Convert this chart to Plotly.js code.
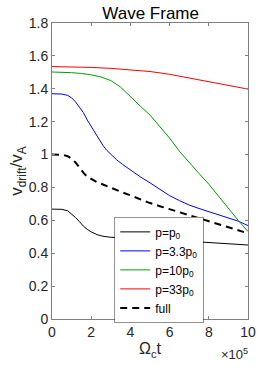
<!DOCTYPE html>
<html><head><meta charset="utf-8">
<script src="https://cdn.plot.ly/plotly-3.0.1.min.js"></script>
<style>html,body{margin:0;padding:0;background:#fff}#c{width:262px;height:371px}</style>
</head><body><div id="c"></div>
<script>
// x in units of 10^5 (Omega_c t)
const xP0 = [0,0.5,0.8,1,1.2,1.4,1.6,1.8,2,2.3,2.6,3,3.5,4,5,6,7,8,9,10];
const yP0 = [0.668,0.667,0.658,0.64,0.617,0.592,0.565,0.545,0.530,0.513,0.503,0.497,0.493,0.490,0.485,0.480,0.473,0.465,0.458,0.450];

const xP3 = [0,0.5,0.8,1,1.2,1.4,1.6,1.8,2,2.2,2.4,2.6,2.8,3,3.3,3.6,4,4.5,5,5.5,6,6.5,7,7.5,8,8.5,9,9.5,10];
const yP3 = [1.370,1.368,1.36,1.345,1.32,1.29,1.255,1.21,1.17,1.13,1.09,1.055,1.025,1.0,0.968,0.94,0.905,0.865,0.828,0.79,0.75,0.72,0.693,0.672,0.652,0.632,0.613,0.595,0.568];

const xP10 = [0,0.5,1,1.5,2,2.5,3,3.5,4,4.5,5,5.5,6,6.5,7,7.5,8,8.5,9,9.5,10];
const yP10 = [1.502,1.501,1.498,1.493,1.485,1.472,1.45,1.41,1.35,1.295,1.24,1.17,1.10,1.02,0.95,0.885,0.82,0.745,0.67,0.60,0.532];

const xP33 = [0,1,2,3,4,5,6,7,8,9,10];
const yP33 = [1.535,1.534,1.530,1.524,1.516,1.505,1.488,1.465,1.442,1.42,1.398];

const xFull = [0,0.6,0.8,1,1.2,1.4,1.6,1.8,2,2.3,2.6,3,3.5,4,4.5,5,5.5,6,6.5,7,7.5,8,8.5,9,9.5,10];
const yFull = [1.0,0.997,0.99,0.975,0.952,0.92,0.89,0.865,0.85,0.832,0.818,0.797,0.774,0.752,0.728,0.705,0.686,0.668,0.65,0.633,0.615,0.597,0.578,0.56,0.54,0.52];

const names = ['p=p<sub>0</sub>','p=3.3p<sub>0</sub>','p=10p<sub>0</sub>','p=33p<sub>0</sub>','full'];
const xTicks = [0,2,4,6,8,10];
const yTicks = [0,0.2,0.4,0.6,0.8,1,1.2,1.4,1.6,1.8];
const yTickText = ['0','0.2','0.4','0.6','0.8','1','1.2','1.4','1.6','1.8'];

const font = 'Liberation Sans, Arial, sans-serif';
const traces = [
  {x:xP0,y:yP0,name:names[0],line:{color:'#000000',width:1}},
  {x:xP3,y:yP3,name:names[1],line:{color:'#0000ff',width:1}},
  {x:xP10,y:yP10,name:names[2],line:{color:'#00a000',width:1}},
  {x:xP33,y:yP33,name:names[3],line:{color:'#ff0000',width:1}},
  {x:xFull,y:yFull,name:names[4],line:{color:'#000000',width:2,dash:'7px,5px'}}
].map(t=>Object.assign({type:'scatter',mode:'lines'},t));

const axis = {
  showgrid:false, zeroline:false, showline:true, mirror:'ticks',
  linecolor:'#808080', linewidth:1, ticks:'inside', ticklen:3, tickcolor:'#808080',
  tickfont:{family:font,size:14,color:'#262626'}
};
const layout = {
  width:262, height:371,
  margin:{l:52,r:14,t:23,b:52},
  paper_bgcolor:'#fff', plot_bgcolor:'#fff',
  title:{text:'Wave Frame', font:{family:font,size:17,color:'#000'}, x:0.575, xanchor:'center', y:0.982, yanchor:'top'},
  xaxis:Object.assign({}, axis, {range:[0,10], tickvals:xTicks, ticktext:xTicks.map(String),
    title:{text:'Ω<sub>c</sub>t', font:{family:font,size:16,color:'#262626'}, standoff:4}}),
  yaxis:Object.assign({}, axis, {range:[0,1.8], tickvals:yTicks, ticktext:yTickText,
    title:{text:'v<sub>drift</sub>/v<sub>A</sub>', font:{family:font,size:17,color:'#262626'}, standoff:1}}),
  showlegend:true,
  legend:{x:0.32, y:0.345, xanchor:'left', yanchor:'top', bgcolor:'#fff', bordercolor:'#262626', borderwidth:0.5,
    font:{family:font,size:12,color:'#000'}, tracegroupgap:0, itemwidth:30},
  annotations:[{xref:'paper',yref:'paper',x:1.01,y:-0.085,xanchor:'right',yanchor:'top',showarrow:false,
    text:'×10<sup>5</sup>', font:{family:font,size:13,color:'#262626'}}]
};
Plotly.newPlot('c', traces, layout, {displayModeBar:false, staticPlot:true});
</script></body></html>
